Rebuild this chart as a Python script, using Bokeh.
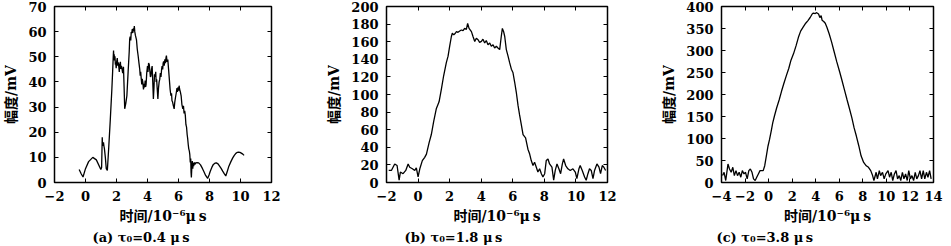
from bokeh.plotting import figure
from bokeh.models import Range1d, LinearAxis, SingleIntervalTicker, Title
from bokeh.layouts import row
from bokeh.embed import file_html
from bokeh.resources import INLINE

# ---------------- data ----------------
# panel (a): tau0 = 0.4 us
a_t = [-0.41, -0.28, -0.16, 0.0, 0.2, 0.47, 0.7, 0.99, 1.04, 1.08, 1.10, 1.12, 1.16, 1.19, 1.22, 1.28,
       1.34, 1.41, 1.5, 1.6, 1.7, 1.75, 1.79, 1.81, 1.83, 1.85, 1.87, 1.90, 1.93, 1.95, 1.98, 2.01,
       2.05, 2.08, 2.11, 2.15, 2.18, 2.21, 2.25, 2.28, 2.32, 2.36, 2.40, 2.45, 2.49, 2.53, 2.60, 2.67,
       2.75, 2.82, 2.85, 2.88, 2.92, 2.95, 2.98, 3.02, 3.05, 3.09, 3.12, 3.15, 3.18, 3.22, 3.26, 3.29,
       3.34, 3.40, 3.45, 3.50, 3.53, 3.56, 3.60, 3.63, 3.66, 3.70, 3.74, 3.78, 3.81, 3.85, 3.88, 3.91,
       3.95, 4.00, 4.03, 4.07, 4.11, 4.15, 4.19, 4.22, 4.26, 4.30, 4.34, 4.38, 4.42, 4.45, 4.49, 4.53,
       4.56, 4.59, 4.63, 4.67, 4.71, 4.75, 4.79, 4.83, 4.87, 4.91, 4.94, 4.98, 5.01, 5.04, 5.08, 5.12,
       5.16, 5.19, 5.22, 5.26, 5.31, 5.36, 5.41, 5.46, 5.51, 5.55, 5.58, 5.62, 5.67, 5.72, 5.76, 5.81,
       5.86, 5.90, 5.93, 5.97, 6.01, 6.04, 6.07, 6.12, 6.17, 6.22, 6.28, 6.32, 6.36, 6.40, 6.44, 6.48,
       6.52, 6.56, 6.59, 6.63, 6.66, 6.70, 6.73, 6.76, 6.79, 6.81, 6.83, 6.86, 6.89, 6.92, 6.95, 6.98,
       7.02, 7.06, 7.10, 7.20, 7.30, 7.42, 7.55, 7.65, 7.75, 7.88, 7.97, 8.05, 8.15, 8.25, 8.35, 8.44,
       8.55, 8.65, 8.75, 8.85, 8.95, 9.05, 9.15, 9.25, 9.38, 9.5, 9.6, 9.7, 9.8, 9.88, 9.96, 10.05,
       10.15, 10.23]
a_mv = [5.2, 3.5, 2.2, 5.5, 8.3, 10.0, 9.0, 5.2, 6.0, 18.0, 14.5, 15.5, 16.0, 14.5, 13.5, 10.0,
        5.5, 4.8, 14.0, 25.0, 37.0, 44.0, 50.0, 52.5, 49.0, 51.0, 48.5, 50.2, 46.8, 47.6, 45.5, 48.0,
        49.5, 46.5, 47.8, 46.0, 44.0, 47.0, 48.0, 45.2, 46.4, 45.0, 43.5, 46.0, 38.0, 29.3, 31.5, 34.5,
        44.0, 52.0, 57.0, 58.0, 56.5, 59.8, 59.3, 61.0, 59.5, 61.3, 60.2, 62.2, 60.0, 58.5, 57.5, 56.7,
        53.0, 50.2, 47.5, 45.0, 42.5, 44.0, 41.0, 39.0, 41.2, 39.8, 37.0, 39.2, 37.8, 40.5, 38.0, 39.0,
        43.5, 46.3, 44.0, 47.5, 47.0, 44.5, 42.0, 42.4, 45.0, 46.3, 40.0, 33.2, 38.0, 43.0, 42.0, 44.0,
        40.0, 41.0, 37.0, 33.2, 37.5, 40.0, 41.0, 43.5, 42.0, 45.0, 46.3, 45.0, 47.5, 48.2, 46.5, 49.0,
        47.5, 49.5, 50.5, 48.0, 48.9, 45.0, 41.0, 37.0, 34.5, 35.5, 32.5, 32.0, 30.5, 29.3, 32.0, 34.0,
        35.8, 37.5, 36.0, 37.8, 36.5, 38.5, 37.2, 36.0, 34.5, 31.0, 29.3, 30.5, 27.5, 28.5, 26.7, 23.0,
        22.0, 19.0, 17.6, 15.0, 13.5, 12.5, 11.1, 8.0, 9.5, 4.0, 2.0, 6.0, 8.5, 5.5, 7.8, 6.5,
        8.0, 7.2, 7.8, 7.9, 7.8, 7.0, 5.5, 4.2, 2.8, 1.6, 3.0, 4.5, 6.0, 7.2, 7.7, 7.8,
        7.4, 6.5, 5.6, 4.5, 3.5, 2.6, 4.5, 6.5, 8.3, 9.8, 10.8, 11.6, 12.0, 12.1, 12.0, 11.7,
        11.3, 10.8]

# panel (b): tau0 = 1.8 us
b_t = [-1.86, -1.69, -1.48, -1.33, -1.20, -1.12, -0.95, -0.78, -0.63, -0.53, -0.36, -0.21, -0.11,
       0.0, 0.11, 0.27, 0.42, 0.53, 0.70, 0.84, 0.99, 1.16, 1.33, 1.48, 1.62, 1.79, 1.90, 2.00,
       2.11, 2.17, 2.26, 2.36, 2.43, 2.53, 2.64, 2.74, 2.85, 2.95, 3.06, 3.14, 3.23, 3.38, 3.48,
       3.59, 3.69, 3.80, 3.90, 4.01, 4.11, 4.22, 4.32, 4.43, 4.54, 4.64, 4.75, 4.85, 4.96, 5.06,
       5.17, 5.27, 5.34, 5.42, 5.49, 5.59, 5.70, 5.80, 5.91, 6.01, 6.12, 6.22, 6.33, 6.43, 6.54,
       6.65, 6.81, 6.96, 7.07, 7.17, 7.28, 7.38, 7.49, 7.59, 7.70, 7.81, 7.91, 8.02, 8.12, 8.23,
       8.33, 8.48, 8.59, 8.69, 8.80, 8.92, 9.03, 9.14, 9.22, 9.35, 9.49, 9.64, 9.81, 9.96, 10.06,
       10.19, 10.27, 10.40, 10.55, 10.65, 10.76, 10.86, 10.97, 11.08, 11.18, 11.33, 11.46, 11.56,
       11.67, 11.77, 11.88]
b_mv = [13.7, 13.7, 21.1, 19.3, 2.6, 11.9, 10.0, 13.7, 21.1, 17.4, 15.6, 13.7, 16.7,
        6.3, 15.6, 24.9, 28.6, 32.3, 45.3, 54.5, 69.4, 84.2, 91.7, 106.5, 121.3, 136.2, 143.6, 154.7,
        165.9, 169.6, 167.7, 169.6, 171.4, 170.7, 172.2, 173.3, 172.5, 175.1, 174.0, 180.7, 175.1, 171.4, 165.9,
        160.3, 164.0, 162.2, 159.2, 160.3, 162.9, 158.5, 161.4, 156.6, 158.5, 154.8, 156.6, 152.9, 154.8, 152.9,
        151.0, 165.9, 175.1, 171.4, 165.9, 151.0, 143.6, 136.2, 128.8, 125.0, 113.9, 102.8, 87.9, 76.8, 65.7,
        54.5, 50.8, 37.8, 32.3, 24.9, 19.3, 23.0, 17.4, 11.9, 15.6, 10.0, 6.3, 10.0, 24.9, 26.7,
        21.1, 17.4, 2.6, 13.7, 21.1, 15.6, 10.0, 21.1, 26.7, 19.3, 15.6, 13.7, 15.6, 11.9, 4.5,
        15.6, 19.3, 13.7, 6.3, 2.6, 10.0, 15.6, 13.7, 4.5, 13.7, 21.1, 17.4, 10.0,
        19.3, 17.4, 13.7]

# panel (c): tau0 = 3.8 us
c_t = [-3.91, -3.78, -3.64, -3.45, -3.32, -3.18, -3.04, -2.91, -2.77, -2.64, -2.50, -2.36, -2.23,
       -2.09, -1.96, -1.82, -1.68, -1.55, -1.41, -1.28, -1.14, -1.01, -0.87, -0.73, -0.60, -0.46,
       -0.33, -0.19, -0.05, 0.08, 0.22, 0.35, 0.49, 0.68, 0.90, 1.09, 1.30, 1.52, 1.71, 1.90, 2.12,
       2.34, 2.53, 2.72, 2.93, 3.15, 3.34, 3.53, 3.70, 3.80, 3.96, 4.08, 4.24, 4.35, 4.46, 4.54,
       4.68, 4.81, 4.95, 5.14, 5.35, 5.57, 5.79, 6.03, 6.22, 6.44, 6.66, 6.85, 7.07, 7.26, 7.45,
       7.66, 7.85, 8.07, 8.29, 8.48, 8.67, 8.83, 8.94, 9.13, 9.24, 9.40, 9.51, 9.67, 9.81, 9.95,
       10.14, 10.27, 10.41, 10.54, 10.68, 10.82, 10.95, 11.09, 11.22, 11.36, 11.49, 11.63, 11.77,
       11.90, 12.04, 12.17, 12.31, 12.45, 12.58, 12.72, 12.85, 12.99, 13.13, 13.26, 13.40, 13.53,
       13.67, 13.80]
c_mv = [15.7, 23.2, 4.5, 41.9, 30.7, 23.2, 34.5, 15.7, 27.0, 15.7, 23.2, 12.0, 27.0,
        19.5, 23.2, 8.2, 27.0, 30.7, 23.2, 8.2, 4.5, 12.0, 19.5, 27.0, 27.0, 27.0,
        38.2, 60.7, 83.0, 98.0, 117.0, 135.6, 150.6, 169.3, 188.0, 206.7, 225.5, 244.0, 259.0, 278.0, 293.0,
        311.6, 330.0, 344.0, 353.0, 362.0, 368.0, 375.0, 383.0, 385.0, 384.0, 386.0, 383.0, 375.0, 379.0, 369.0,
        366.0, 362.0, 353.0, 338.0, 319.0, 296.6, 274.0, 251.7, 233.0, 210.5, 188.0, 169.3, 146.8, 124.0, 105.6,
        83.0, 60.7, 45.7, 38.0, 34.5, 27.0, 15.7, 4.5, 23.2, 8.2, 27.0, 15.7, 23.2, 8.2, 19.5,
        27.0, 12.0, 23.2, 4.5, 19.5, 27.0, 8.2, 15.7, 4.5, 23.2, 8.2, 19.5, 4.5,
        27.0, 8.2, 15.7, 4.5, 23.2, 8.2, 15.7, 27.0, 8.2, 27.0, 8.2, 23.2, 12.0,
        27.0, 8.2]

x_ranges = [(-2, 12), (-2, 12), (-4, 14)]
y_ranges = [(0, 70), (0, 200), (0, 400)]
x_steps = [2, 2, 2]
y_steps = [10, 20, 50]
captions = ["(a) τ₀=0.4 μ\u2009s", "(b) τ₀=1.8 μ\u2009s", "(c) τ₀=3.8 μ\u2009s"]
x_label = "时间/10⁻⁶μ\u2009s"
y_label = "幅度/mV"

# ---------------- styling ----------------
TICK_FONT = "DejaVu Serif"
LABEL_FONT = "DejaVu Serif, Noto Sans CJK SC"
FRAME_H = 176


def style_axis(ax, ticker, show_labels=True):
    ax.ticker = ticker
    ax.axis_line_color = None
    ax.major_tick_in = 4
    ax.major_tick_out = 0
    ax.major_tick_line_color = "black"
    ax.major_tick_line_width = 1
    ax.minor_tick_line_color = None
    if show_labels:
        ax.major_label_text_font = TICK_FONT
        ax.major_label_text_font_size = "13px"
        ax.major_label_text_font_style = "bold"
        ax.major_label_text_color = "black"
        ax.major_label_standoff = 4
    else:
        ax.major_label_text_font_size = "1px"
        ax.major_label_text_color = None
        ax.major_label_standoff = 0


def make_panel(t, mv, i, left, right, fw, cap_offset):
    p = figure(frame_width=fw, frame_height=FRAME_H,
               x_range=Range1d(*x_ranges[i]), y_range=Range1d(*y_ranges[i]),
               output_backend="svg", toolbar_location=None,
               min_border_left=left, min_border_right=right,
               min_border_top=6, min_border_bottom=0)
    p.grid.visible = False
    p.outline_line_color = "black"
    p.outline_line_width = 1.5
    p.outline_line_alpha = 1.0

    p.line(t, mv, line_color="black", line_width=1.3)

    xa = p.below[0]
    ya = p.left[0]
    style_axis(xa, SingleIntervalTicker(interval=x_steps[i]))
    style_axis(ya, SingleIntervalTicker(interval=y_steps[i]))
    for ax in (xa, ya):
        ax.axis_label_text_font = LABEL_FONT
        ax.axis_label_text_font_size = "14px"
        ax.axis_label_text_font_style = "bold"
        ax.axis_label_text_color = "black"
    xa.axis_label = x_label
    ya.axis_label = y_label
    xa.axis_label_standoff = 4
    ya.axis_label_standoff = 6

    top = LinearAxis()
    style_axis(top, SingleIntervalTicker(interval=x_steps[i]), show_labels=False)
    p.add_layout(top, "above")
    rt = LinearAxis()
    style_axis(rt, SingleIntervalTicker(interval=y_steps[i]), show_labels=False)
    p.add_layout(rt, "right")

    cap = Title(text=captions[i], align="left", offset=cap_offset,
                text_font=LABEL_FONT, text_font_size="13px",
                text_font_style="bold", text_color="black", standoff=2)
    p.add_layout(cap, "below")
    return p


pa = make_panel(a_t, a_mv, 0, 47, 51, 217, 38)
pb = make_panel(b_t, b_mv, 1, 64, 51, 221, 18)
pc = make_panel(c_t, c_mv, 2, 62, 10, 212, -5)

layout = row(pa, pb, pc, spacing=0)
open("out.html", "w").write(file_html(layout, INLINE))
